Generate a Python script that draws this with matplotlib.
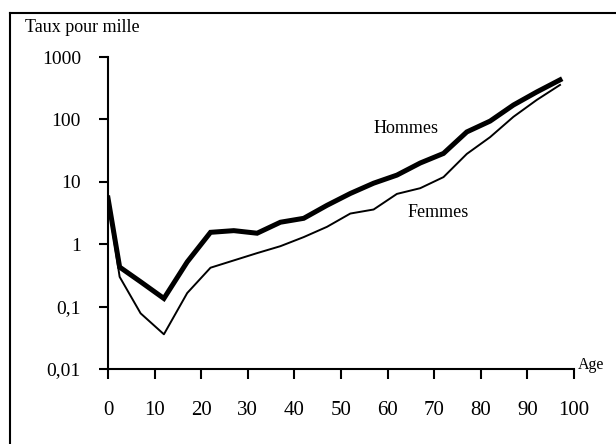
import matplotlib.pyplot as plt
from matplotlib.lines import Line2D

ages = [0, 2.5, 7, 12, 17, 22, 27, 32, 37, 42, 47, 52, 57, 62, 67, 72, 77, 82, 87, 92, 97]
hommes = [5.5, 0.43, 0.25, 0.135, 0.52, 1.55, 1.65, 1.5, 2.25, 2.6, 4.2, 6.5, 9.5,
          12.8, 20, 28.5, 63, 94, 170, 275, 430]
femmes = [5.0, 0.30, 0.078, 0.036, 0.165, 0.42, 0.55, 0.72, 0.93, 1.3, 1.9, 3.1, 3.6,
          6.4, 7.9, 11.9, 28, 52, 110, 205, 357]

y_ticks = [0.01, 0.1, 1, 10, 100, 1000]
y_labels = ['0,01', '0,1', '1', '10', '100', '1000']
x_ticks = [0, 10, 20, 30, 40, 50, 60, 70, 80, 90, 100]

plt.rcParams['font.family'] = ['Liberation Serif', 'DejaVu Serif']

fig = plt.figure(figsize=(6.16, 4.44), dpi=100)
ax = fig.add_axes([0.1753, 0.1689, 0.7565, 0.7027])

ax.plot(ages, hommes, color='black', lw=3.6, solid_joinstyle='miter')
ax.plot(ages, femmes, color='black', lw=1.4)

ax.set_yscale('log')
ax.set_ylim(0.01, 1000)
ax.set_xlim(0, 100)
ax.set_yticks(y_ticks)
ax.set_yticklabels(y_labels)
ax.minorticks_off()
ax.set_xticks(x_ticks)

for s in ['top', 'right']:
    ax.spines[s].set_visible(False)
for s in ['left', 'bottom']:
    ax.spines[s].set_linewidth(1.5)

ax.tick_params(axis='y', direction='out', length=6.5, width=1.5, pad=13, labelsize=14)
ax.tick_params(axis='x', direction='out', length=7, width=1.5, pad=16, labelsize=15)

ax.text(0.04, 0.937, 'Taux pour mille', transform=fig.transFigure, fontsize=13, va='center')
ax.text(57, 72, 'Hommes', fontsize=13, va='center')
ax.text(64.3, 3.2, 'Femmes', fontsize=13, va='center')
ax.text(100.8, 0.0118, 'Age', fontsize=11.5, va='center')

# cadre autour du graphique
fig.add_artist(Line2D([0.016, 1.0], [0.971, 0.971], transform=fig.transFigure, color='black', lw=1.5))
fig.add_artist(Line2D([0.016, 0.016], [0.0, 0.971], transform=fig.transFigure, color='black', lw=1.5))

plt.savefig('out.png', dpi=100)
